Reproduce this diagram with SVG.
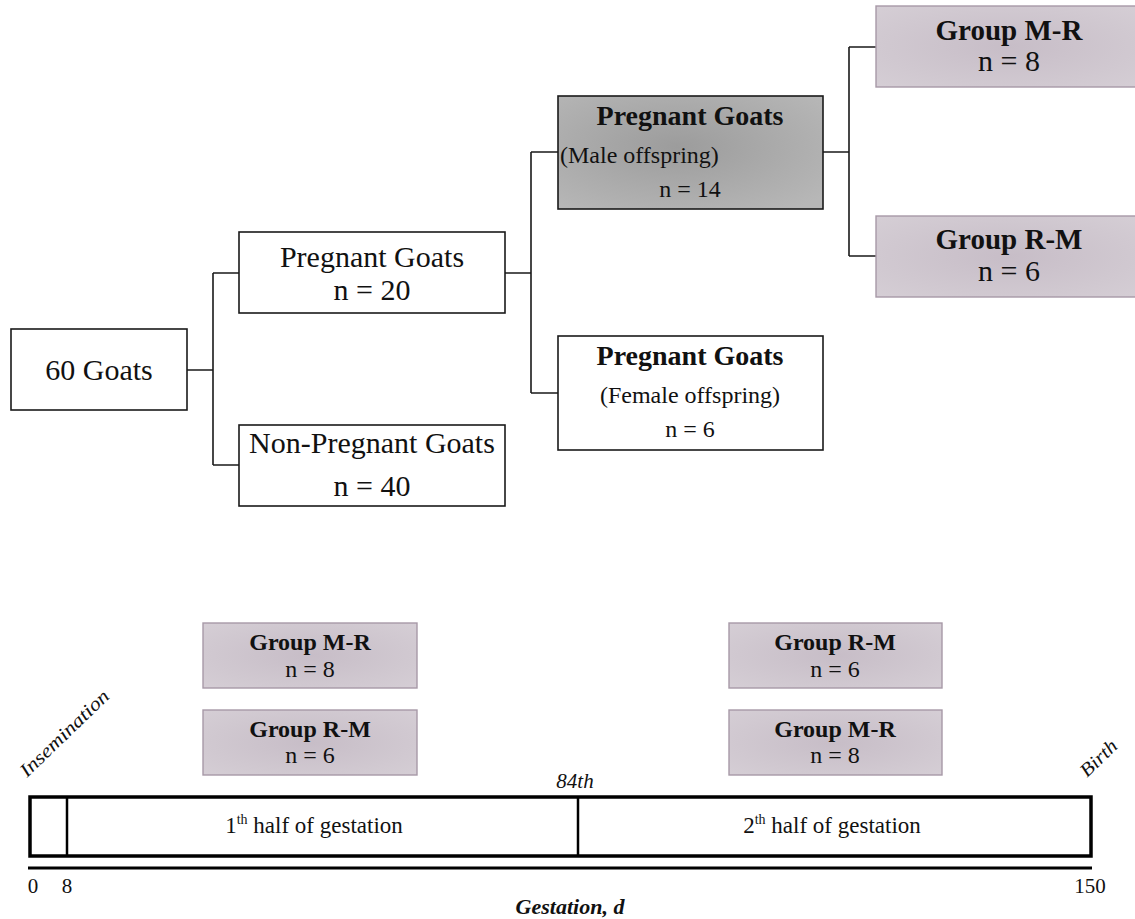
<svg xmlns="http://www.w3.org/2000/svg" width="1135" height="919" viewBox="0 0 1135 919">
<defs>
<radialGradient id="gPurple" cx="0.5" cy="0.5" r="0.7">
<stop offset="0" stop-color="#c7bdc7"/>
<stop offset="1" stop-color="#d5ced5"/>
</radialGradient>
<radialGradient id="gGray" cx="0.45" cy="0.45" r="0.7">
<stop offset="0" stop-color="#9c9c9c"/>
<stop offset="1" stop-color="#b7b7b7"/>
</radialGradient>
</defs>
<style>
.box{fill:#fff;stroke:#1a1a1a;stroke-width:1.6}
.grp{fill:url(#gPurple);stroke:#a799a7;stroke-width:1.4}
.male{fill:url(#gGray);stroke:#1a1a1a;stroke-width:1.6}
.con{fill:none;stroke:#1a1a1a;stroke-width:1.6}
text{font-family:"Liberation Serif","Times New Roman",serif;fill:#111;text-anchor:middle}
.t30{font-size:30px}
.b30{font-size:29px;font-weight:bold}
.b28{font-size:28px;font-weight:bold}
.t24{font-size:24px}
.b24{font-size:24px;font-weight:bold}
.tl{fill:none;stroke:#000;stroke-width:3.5}
.div{stroke:#000;stroke-width:2.5}
.it{font-style:italic}
.ax{font-size:21px}
</style>
<g id="connectors">
<path class="con" d="M187 370 H213 M213 273 V465 M213 273 H239 M213 465 H239"/>
<path class="con" d="M505 273 H531 M531 152 V393 M531 152 H558 M531 393 H558"/>
<path class="con" d="M823 152 H849 M849 47 V256 M849 47 H876 M849 256 H876"/>
</g>
<g id="n60">
<rect class="box" x="11" y="329" width="176" height="81"/>
<text class="t30" x="99" y="380">60 Goats</text>
</g>
<g id="preg20">
<rect class="box" x="239" y="232" width="266" height="81"/>
<text class="t30" x="372" y="267">Pregnant Goats</text>
<text class="t30" x="372" y="300">n = 20</text>
</g>
<g id="nonpreg">
<rect class="box" x="239" y="425" width="266" height="81"/>
<text class="t30" x="372" y="453">Non-Pregnant Goats</text>
<text class="t30" x="372" y="496">n = 40</text>
</g>
<g id="male">
<rect class="male" x="558" y="96" width="265" height="113"/>
<text class="b28" x="690" y="125">Pregnant Goats</text>
<text class="t24" x="560" y="163" style="text-anchor:start">(Male offspring)</text>
<text class="t24" x="690" y="197">n = 14</text>
</g>
<g id="female">
<rect class="box" x="558" y="336" width="265" height="114"/>
<text class="b28" x="690" y="365">Pregnant Goats</text>
<text class="t24" x="690" y="403">(Female offspring)</text>
<text class="t24" x="690" y="437">n = 6</text>
</g>
<g id="topMR">
<rect class="grp" x="876" y="6" width="266" height="81"/>
<text class="b30" x="1009" y="40">Group M-R</text>
<text class="t30" x="1009" y="71">n = 8</text>
</g>
<g id="topRM">
<rect class="grp" x="876" y="216" width="266" height="81"/>
<text class="b30" x="1009" y="249">Group R-M</text>
<text class="t30" x="1009" y="281">n = 6</text>
</g>
<g id="firstMR">
<rect class="grp" x="203" y="623" width="214" height="65"/>
<text class="b24" x="310" y="650">Group M-R</text>
<text class="t24" x="310" y="677">n = 8</text>
</g>
<g id="firstRM">
<rect class="grp" x="203" y="710" width="214" height="65"/>
<text class="b24" x="310" y="737">Group R-M</text>
<text class="t24" x="310" y="763">n = 6</text>
</g>
<g id="secondRM">
<rect class="grp" x="729" y="623" width="213" height="65"/>
<text class="b24" x="835" y="650">Group R-M</text>
<text class="t24" x="835" y="677">n = 6</text>
</g>
<g id="secondMR">
<rect class="grp" x="729" y="710" width="213" height="65"/>
<text class="b24" x="835" y="737">Group M-R</text>
<text class="t24" x="835" y="763">n = 8</text>
</g>
<g id="timeline">
<rect class="tl" x="30" y="797" width="1061" height="59"/>
<line class="div" x1="67" y1="797" x2="67" y2="856"/>
<line class="div" x1="578" y1="797" x2="578" y2="856"/>
<line stroke="#000" stroke-width="3" x1="28" y1="868" x2="1092" y2="868"/>
<text x="314" y="833" style="font-size:23px">1<tspan font-size="14" dy="-9">th</tspan><tspan dy="9"> half of gestation</tspan></text>
<text x="832" y="833" style="font-size:23px">2<tspan font-size="14" dy="-9">th</tspan><tspan dy="9"> half of gestation</tspan></text>
<text class="it" x="575" y="788" style="font-size:21px">84th</text>
<text class="ax" x="33" y="893">0</text>
<text class="ax" x="67" y="893">8</text>
<text class="ax" x="1090" y="893">150</text>
<text x="570" y="914" style="font-size:22px;font-style:italic;font-weight:bold">Gestation, d</text>
<text class="it" x="0" y="0" transform="translate(27 778) rotate(-44)" style="font-size:19px;text-anchor:start" textLength="116" lengthAdjust="spacingAndGlyphs">Insemination</text>
<text class="it" x="0" y="0" transform="translate(1087 778) rotate(-44)" style="font-size:19px;text-anchor:start" textLength="44" lengthAdjust="spacingAndGlyphs">Birth</text>
</g>
</svg>
